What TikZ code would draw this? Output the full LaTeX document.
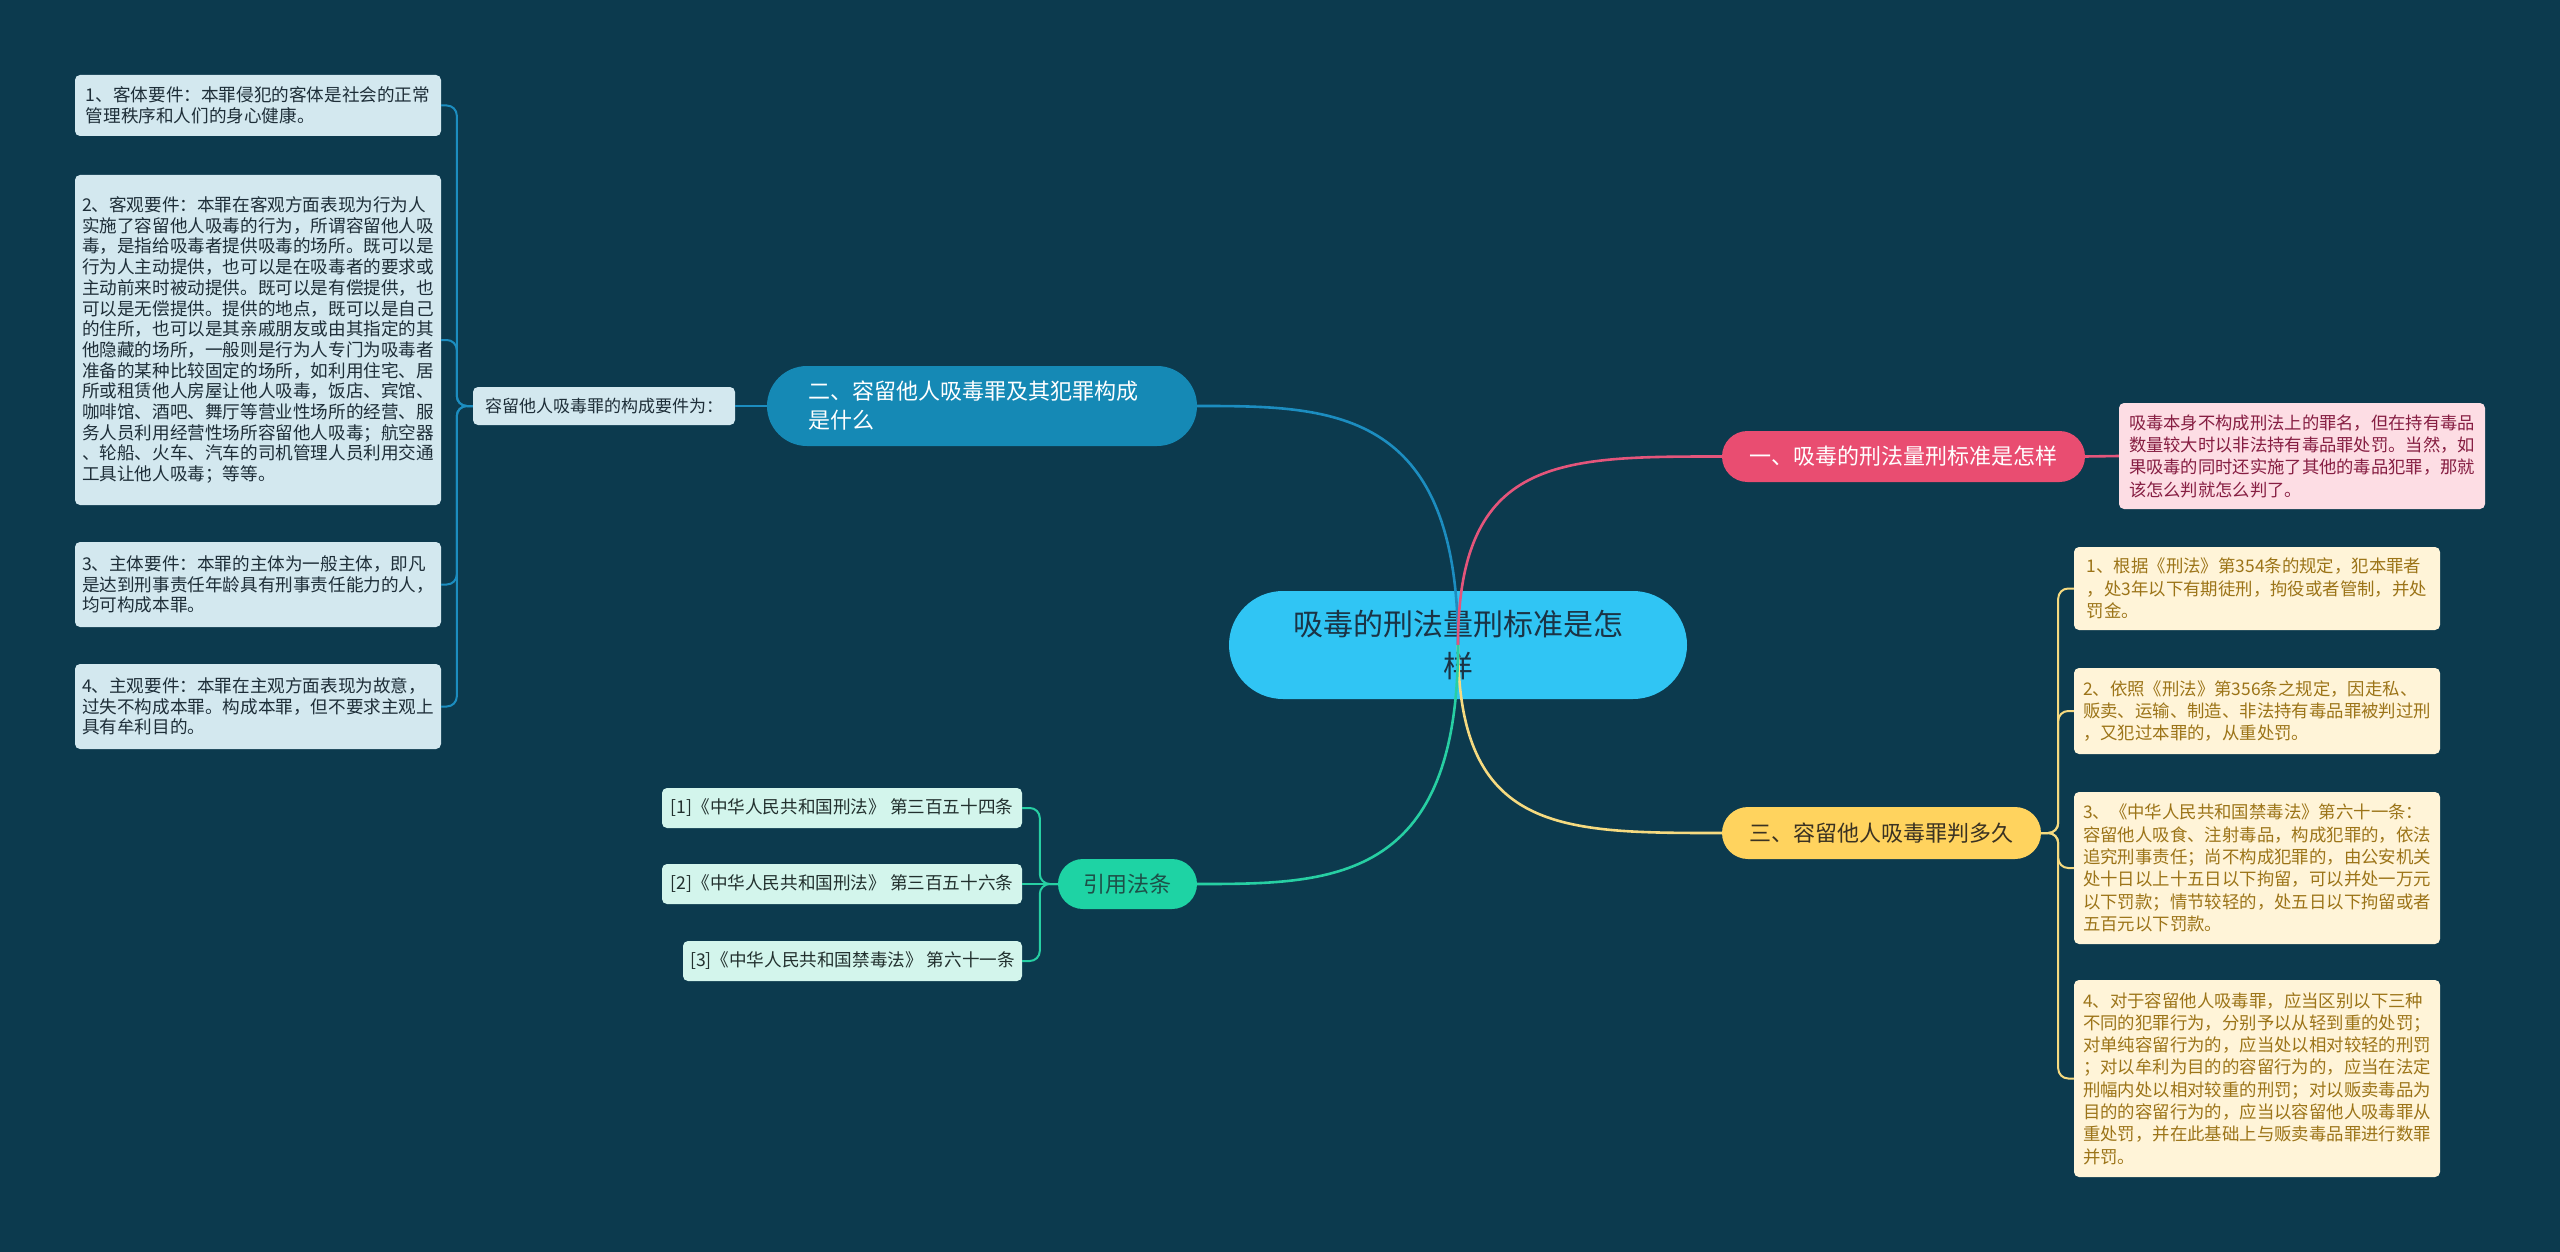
\documentclass[tikz,border=0pt]{standalone}
\usepackage{fontspec}
\setmainfont{Noto Sans CJK SC}
\definecolor{bg}{HTML}{0C3A4E}
\definecolor{rootfill}{HTML}{30C5F4}
\definecolor{roottext}{HTML}{1B3345}
\definecolor{bluefill}{HTML}{1589B5}
\definecolor{blueline}{HTML}{1C8DC0}
\definecolor{pinkfill}{HTML}{E94D71}
\definecolor{pinkline}{HTML}{E4557B}
\definecolor{yelfill}{HTML}{FFD35E}
\definecolor{yelline}{HTML}{F6DA80}
\definecolor{grnfill}{HTML}{1ED3A4}
\definecolor{grnline}{HTML}{27CFA3}
\definecolor{lbfill}{HTML}{D3E8EF}
\definecolor{lbtext}{HTML}{1E2E38}
\definecolor{ybfill}{HTML}{FFF4D8}
\definecolor{ybtext}{HTML}{9C7418}
\definecolor{pbfill}{HTML}{FDDDE4}
\definecolor{pbtext}{HTML}{861E42}
\definecolor{gbfill}{HTML}{D3F5EC}
\definecolor{gbtext}{HTML}{22302E}
\definecolor{n3text}{HTML}{3A3222}
\definecolor{gntext}{HTML}{1D5048}
\begin{document}
\begin{tikzpicture}[x=1pt,y=-1pt,
  box/.style={rectangle,rounded corners=5pt,inner sep=0pt,align=left,font=\fontsize{17.6}{20.7}\selectfont},
  lbox/.style={box,fill=lbfill,text=lbtext},
  ybox/.style={box,fill=ybfill,text=ybtext,font=\fontsize{17.4}{22.3}\selectfont},
  pbox/.style={box,fill=pbfill,text=pbtext,font=\fontsize{17.3}{22.3}\selectfont},
  gbox/.style={box,fill=gbfill,text=gbtext},
  pill/.style={rectangle,inner sep=0pt,align=left,font=\fontsize{22}{29}\selectfont},
  conn/.style={line width=2.6pt},
  brk/.style={line width=2pt,rounded corners=10pt},
]
\fill[bg] (0,0) rectangle (2560,1252);
\useasboundingbox (0,0) rectangle (2560,1252);

% left column
\node[lbox,minimum width=366pt,minimum height=61pt] (b1) at (258,105.5) {1、客体要件：本罪侵犯的客体是社会的正常\\管理秩序和人们的身心健康。};
\node[lbox,minimum width=366pt,minimum height=330pt] (b2) at (258,340) {2、客观要件：本罪在客观方面表现为行为人\\实施了容留他人吸毒的行为，所谓容留他人吸\\毒，是指给吸毒者提供吸毒的场所。既可以是\\行为人主动提供，也可以是在吸毒者的要求或\\主动前来时被动提供。既可以是有偿提供，也\\可以是无偿提供。提供的地点，既可以是自己\\的住所，也可以是其亲戚朋友或由其指定的其\\他隐藏的场所，一般则是行为人专门为吸毒者\\准备的某种比较固定的场所，如利用住宅、居\\所或租赁他人房屋让他人吸毒，饭店、宾馆、\\咖啡馆、酒吧、舞厅等营业性场所的经营、服\\务人员利用经营性场所容留他人吸毒；航空器\\、轮船、火车、汽车的司机管理人员利用交通\\工具让他人吸毒；等等。};
\node[lbox,minimum width=366pt,minimum height=85pt] (b3) at (258,584.5) {3、主体要件：本罪的主体为一般主体，即凡\\是达到刑事责任年龄具有刑事责任能力的人，\\均可构成本罪。};
\node[lbox,minimum width=366pt,minimum height=85pt] (b4) at (258,706.5) {4、主观要件：本罪在主观方面表现为故意，\\过失不构成本罪。构成本罪，但不要求主观上\\具有牟利目的。};
\node[lbox,minimum width=262pt,minimum height=38pt,font=\fontsize{17}{20}\selectfont] (kn) at (604,406) {容留他人吸毒罪的构成要件为：};

% branch 2
\node[pill,fill=bluefill,text=white,rounded corners=40pt,minimum width=430pt,minimum height=80pt] (br2) at (982,406) {二、容留他人吸毒罪及其犯罪构成\rule{18pt}{0pt}\\是什么};

% root
\node[rectangle,inner sep=0pt,fill=rootfill,text=roottext,rounded corners=54pt,minimum width=458pt,minimum height=108pt,align=center,font=\fontsize{30}{42}\selectfont] (root) at (1458,645) {吸毒的刑法量刑标准是怎\\样};

% branch 1
\node[pill,fill=pinkfill,text=white,rounded corners=25.5pt,minimum width=363pt,minimum height=51pt] (n1) at (1903.5,456.5) {一、吸毒的刑法量刑标准是怎样};
\node[pbox,minimum width=366pt,minimum height=106pt] (pb) at (2302,456) {吸毒本身不构成刑法上的罪名，但在持有毒品\\数量较大时以非法持有毒品罪处罚。当然，如\\果吸毒的同时还实施了其他的毒品犯罪，那就\\该怎么判就怎么判了。};

% branch 3
\node[pill,fill=yelfill,text=n3text,rounded corners=26pt,minimum width=319pt,minimum height=52pt] (n3) at (1881.5,833) {三、容留他人吸毒罪判多久};
\node[ybox,minimum width=366pt,minimum height=83pt] (y1) at (2257,588.5) {1、根据《刑法》第354条的规定，犯本罪者\\，处3年以下有期徒刑，拘役或者管制，并处\\罚金。};
\node[ybox,minimum width=366pt,minimum height=86pt] (y2) at (2257,711) {2、依照《刑法》第356条之规定，因走私、\\贩卖、运输、制造、非法持有毒品罪被判过刑\\，又犯过本罪的，从重处罚。};
\node[ybox,minimum width=366pt,minimum height=152pt] (y3) at (2257,868) {3、《中华人民共和国禁毒法》第六十一条：\\容留他人吸食、注射毒品，构成犯罪的，依法\\追究刑事责任；尚不构成犯罪的，由公安机关\\处十日以上十五日以下拘留，可以并处一万元\\以下罚款；情节较轻的，处五日以下拘留或者\\五百元以下罚款。};
\node[ybox,minimum width=366pt,minimum height=197pt] (y4) at (2257,1078.5) {4、对于容留他人吸毒罪，应当区别以下三种\\不同的犯罪行为，分别予以从轻到重的处罚；\\对单纯容留行为的，应当处以相对较轻的刑罚\\；对以牟利为目的的容留行为的，应当在法定\\刑幅内处以相对较重的刑罚；对以贩卖毒品为\\目的的容留行为的，应当以容留他人吸毒罪从\\重处罚，并在此基础上与贩卖毒品罪进行数罪\\并罚。};

% branch 4
\node[pill,fill=grnfill,text=gntext,rounded corners=25pt,minimum width=139pt,minimum height=50pt] (gn) at (1127.5,884) {引用法条};
\node[gbox,minimum width=360pt,minimum height=40pt] (r1) at (842,808) {[1]《中华人民共和国刑法》 第三百五十四条};
\node[gbox,minimum width=360pt,minimum height=40pt] (r2) at (842,884) {[2]《中华人民共和国刑法》 第三百五十六条};
\node[gbox,minimum width=339pt,minimum height=40pt] (r3) at (852.5,961) {[3]《中华人民共和国禁毒法》 第六十一条};

% main connectors
\draw[conn,blueline] (root.center) .. controls +(0,-239) and +(133,0) .. (br2.east);
\draw[conn,pinkline] (root.center) .. controls +(0,-189) and +(-162,0) .. (n1.west);
\draw[conn,yelline] (root.center) .. controls +(0,188) and +(-162,0) .. (n3.west);
\draw[conn,grnline] (root.center) .. controls +(0,239) and +(133,0) .. (gn.east);

% sub connectors
\draw[conn,pinkline] (n1.east) -- (pb.west);
\draw[brk,blueline] (kn.east) -- (br2.west);
\foreach \b in {b1,b2,b3,b4} \draw[brk,blueline] (kn.west) -- ++(-16,0) |- (\b.east);
\foreach \b in {y1,y2,y3,y4} \draw[brk,yelline] (n3.east) -- ++(17,0) |- (\b.west);
\foreach \b in {r1,r3} \draw[brk,grnline] (gn.west) -- ++(-18,0) |- (\b.east);
\draw[brk,grnline] (gn.west) -- (r2.east);
\end{tikzpicture}
\end{document}
